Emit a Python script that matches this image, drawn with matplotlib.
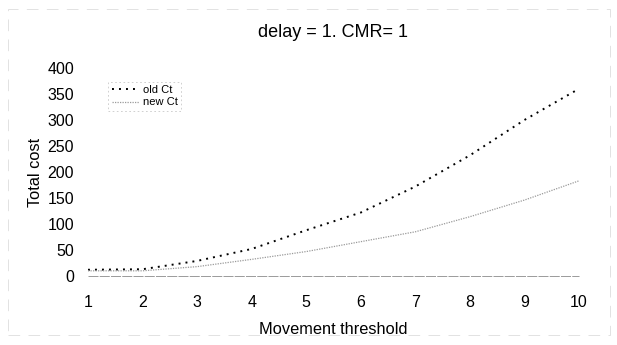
import matplotlib.pyplot as plt
from matplotlib.patches import Rectangle

plt.rcParams['font.family'] = ['Liberation Sans', 'DejaVu Sans']

threshold = [1, 2, 3, 4, 5, 6, 7, 8, 9, 10]
old_ct = [12, 13, 29, 52, 88, 122, 172, 232, 300, 360]
new_ct = [10, 10, 18, 32, 47, 66, 85, 114, 146, 183]

fig = plt.figure(figsize=(6.17, 3.45), dpi=100)
ax = fig.add_axes([0.1426, 0.2, 0.7958, 0.603])

ax.plot(threshold, old_ct, color="black", linestyle=(0, (1, 2.6)), linewidth=1.4, label="old Ct")
ax.plot(threshold, new_ct, color="#9a9a9a", linestyle=(0, (1, 1)), linewidth=0.9, label="new Ct")
ax.axhline(y=0, color="#8a8a8a", linestyle=(0, (12, 1.5)), linewidth=0.6, zorder=1, clip_on=False)

ax.set_xlim(1, 10)
ax.set_ylim(0, 400)
ax.set_xticks(threshold)
ax.set_yticks(range(0, 401, 50))
for s in ax.spines.values():
    s.set_visible(False)
ax.tick_params(length=0, labelsize=11.5, pad=10)
ax.tick_params(axis="x", pad=14)

ax.set_title("delay = 1. CMR= 1", fontsize=13, pad=22)
ax.set_xlabel("Movement threshold", fontsize=11.8, labelpad=8)
ax.set_ylabel("Total cost", fontsize=11.8, labelpad=3)

leg = ax.legend(loc="upper left", bbox_to_anchor=(0.03, 0.96), fontsize=8,
                frameon=True, fancybox=False, handlelength=2.5, borderpad=0.3,
                labelspacing=0.2, handletextpad=0.3)
leg.get_frame().set_edgecolor("#bbbbbb")
leg.get_frame().set_linestyle((0, (2, 3)))
leg.get_frame().set_linewidth(0.6)

fig.patches.append(Rectangle((0.013, 0.03), 0.975, 0.945, transform=fig.transFigure,
                             fill=False, edgecolor="#dddddd", linewidth=0.6,
                             linestyle=(0, (14, 10))))

plt.savefig("out.png")
